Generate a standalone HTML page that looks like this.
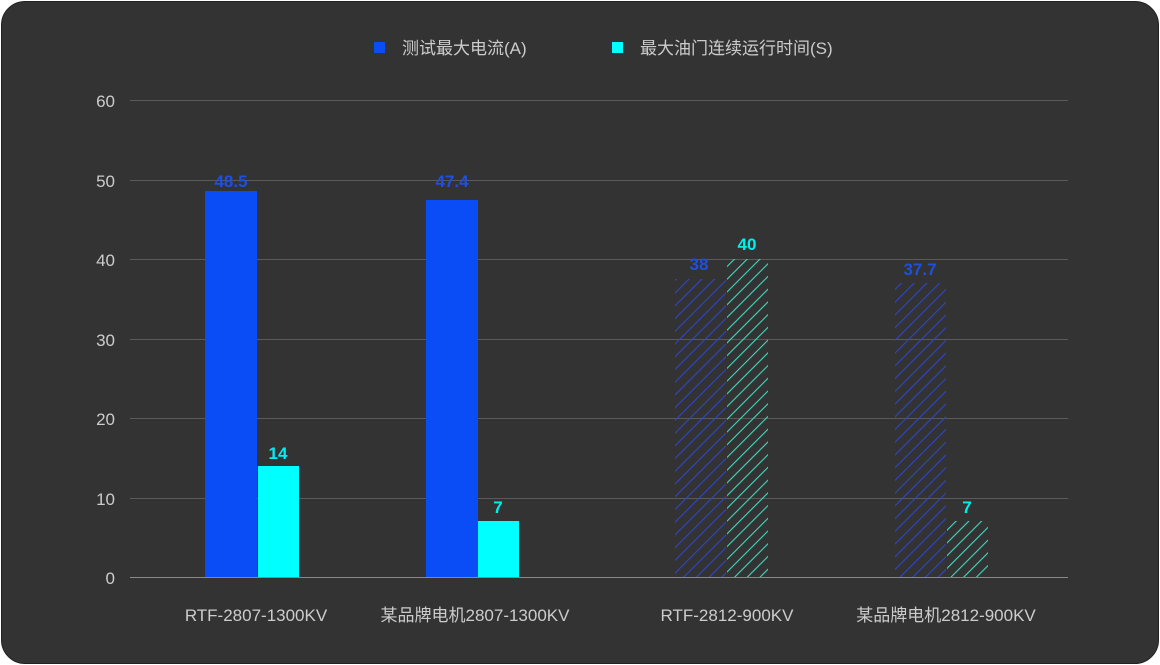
<!DOCTYPE html><html><head><meta charset="utf-8"><style>
body{margin:0;background:#fff;width:1160px;height:665px;overflow:hidden}
.card{position:absolute;left:1px;top:1px;width:1156px;height:661px;background:#333;border:1px solid #222;border-radius:24px}
text{font-family:"Liberation Sans","Noto Sans CJK SC",sans-serif}
</style></head><body><div class="card"></div>
<svg width="1160" height="665" style="position:absolute;left:0;top:0">
<defs>
<pattern id="hb" width="9" height="9" patternUnits="userSpaceOnUse" patternTransform="rotate(45)"><line x1="0" y1="0" x2="0" y2="9" stroke="#2f45c8" stroke-width="2.2"/></pattern>
<pattern id="hc" width="9" height="9" patternUnits="userSpaceOnUse" patternTransform="rotate(45)"><line x1="0" y1="0" x2="0" y2="9" stroke="#3fd9bd" stroke-width="2.2"/></pattern>
</defs>
<g stroke="#5a5a5a" stroke-width="1">
<line x1="130" x2="1068" y1="100.5" y2="100.5"/><line x1="130" x2="1068" y1="180.5" y2="180.5"/><line x1="130" x2="1068" y1="259.5" y2="259.5"/><line x1="130" x2="1068" y1="339.5" y2="339.5"/><line x1="130" x2="1068" y1="418.5" y2="418.5"/><line x1="130" x2="1068" y1="498.5" y2="498.5"/></g>
<line x1="130" x2="1068" y1="577.5" y2="577.5" stroke="#888"/>
<g fill="#ccc" font-size="17" text-anchor="end">
<text x="115" y="107">60</text><text x="115" y="187">50</text><text x="115" y="266">40</text><text x="115" y="346">30</text><text x="115" y="425">20</text><text x="115" y="505">10</text><text x="115" y="584">0</text></g>
<rect x="205" y="191" width="52" height="386" fill="#0a4cf5"/>
<rect x="258" y="466" width="41" height="111" fill="#00ffff"/>
<rect x="426" y="200" width="52" height="377" fill="#0a4cf5"/>
<rect x="478" y="521" width="41" height="56" fill="#00ffff"/>
<rect x="675" y="279" width="51" height="298" fill="url(#hb)"/>
<rect x="727" y="259" width="41" height="318" fill="url(#hc)"/>
<rect x="895" y="283" width="51" height="294" fill="url(#hb)"/>
<rect x="947" y="521" width="41" height="56" fill="url(#hc)"/>
<g font-size="17" font-weight="600" text-anchor="middle">
<text x="231" y="187" fill="#1f4fe0">48.5</text><text x="278" y="459" fill="#00eeee">14</text>
<text x="452" y="187" fill="#1f4fe0">47.4</text><text x="498" y="513" fill="#00eeee">7</text>
<text x="699" y="270" fill="#1f4fe0">38</text><text x="747" y="250" fill="#00eeee">40</text>
<text x="920" y="275" fill="#1f4fe0">37.7</text><text x="967" y="513" fill="#00eeee">7</text></g>
<g fill="#ccc" font-size="17" text-anchor="middle">
<text x="256" y="621">RTF-2807-1300KV</text><text x="475" y="621">某品牌电机2807-1300KV</text>
<text x="727" y="621">RTF-2812-900KV</text><text x="946" y="621">某品牌电机2812-900KV</text></g>
<rect x="374" y="42" width="11" height="11" fill="#0a4cf5"/>
<text x="402" y="54" fill="#ccc" font-size="17">测试最大电流(A)</text>
<rect x="612" y="42" width="11" height="11" fill="#00ffff"/>
<text x="640" y="54" fill="#ccc" font-size="17">最大油门连续运行时间(S)</text>
</svg></body></html>
